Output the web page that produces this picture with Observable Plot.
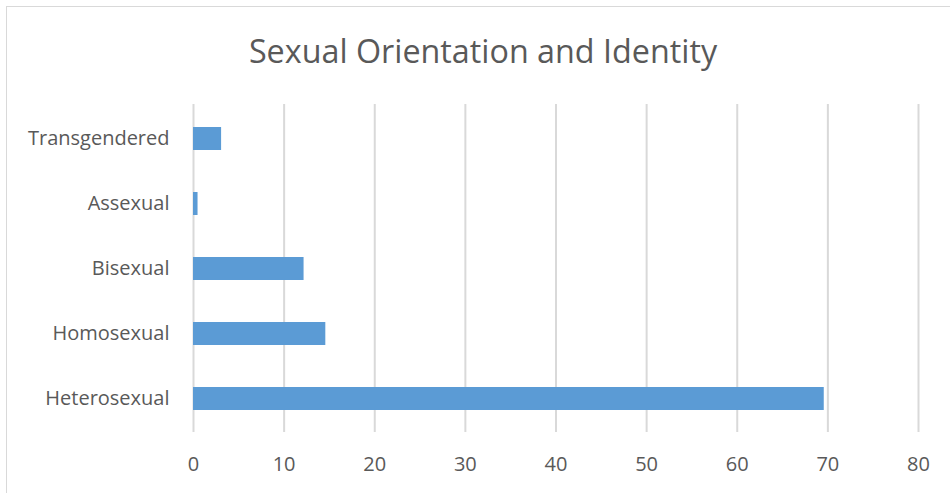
<!DOCTYPE html>
<html>
<head>
<meta charset="utf-8">
<script src="https://cdn.jsdelivr.net/npm/d3@7"></script>
<script src="https://cdn.jsdelivr.net/npm/@observablehq/plot@0.6"></script>
<style>
  html, body { margin: 0; padding: 0; background: #fff; }
  body { width: 950px; height: 493px; overflow: hidden; position: relative; font-family: "Open Sans", sans-serif; }
  #frame { position: absolute; left: 6px; top: 6px; width: 960px; height: 500px; border: 1px solid #d9d9d9; box-sizing: border-box; }
  #title { position: absolute; left: 8px; top: 26px; width: 950px; text-align: center; font-size: 32.3px; color: #595959; line-height: 48px; }
  #chart { position: absolute; left: 0; top: 90px; }
</style>
</head>
<body>
<div id="frame"></div>
<div id="title">Sexual Orientation and Identity</div>
<div id="chart"></div>
<script>
const categories = ["Transgendered", "Assexual", "Bisexual", "Homosexual", "Heterosexual"];
const values = [3.1, 0.5, 12.2, 14.6, 69.6];
const xTicks = [0, 10, 20, 30, 40, 50, 60, 70, 80];

const data = categories.map((c, i) => ({category: c, value: values[i]}));

const plot = Plot.plot({
  width: 950,
  height: 403,
  marginTop: 14,
  marginBottom: 61,
  marginLeft: 193,
  marginRight: 32,
  style: {fontFamily: "Open Sans, sans-serif", fontSize: "20px", color: "#595959", background: "transparent"},
  x: {domain: [0, 80], ticks: xTicks, label: null},
  y: {domain: categories, paddingInner: 0.65, paddingOuter: 0.325, label: null},
  marks: [
    Plot.gridX(xTicks, {stroke: "#d9d9d9", strokeOpacity: 1, strokeWidth: 2}),
    Plot.barX(data, {x: "value", y: "category", fill: "#5b9bd5"}),
    Plot.axisX(xTicks, {tickSize: 0, tickPadding: 24, fontSize: 20, fill: "#595959"}),
    Plot.axisY({tickSize: 0, tickPadding: 24, fontSize: 20, fill: "#595959"})
  ]
});
document.getElementById("chart").appendChild(plot);
</script>
</body>
</html>
